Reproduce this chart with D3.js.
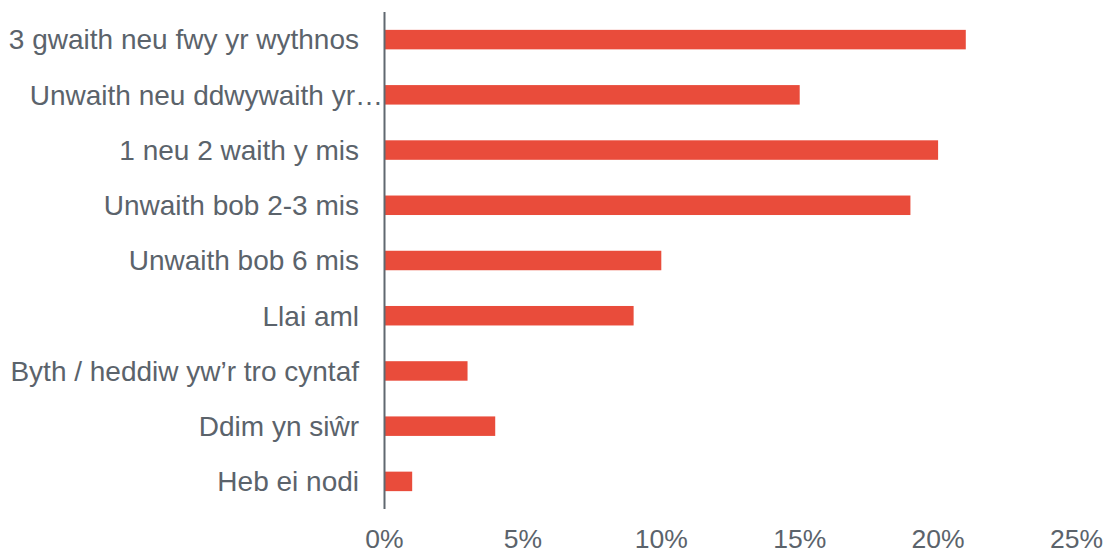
<!DOCTYPE html>
<html><head><meta charset="utf-8">
<script src="https://cdn.jsdelivr.net/npm/d3@7"></script>
<style>body{margin:0;background:#fff}svg{display:block}</style>
</head><body>
<svg id="c" width="1113" height="555"></svg>
<script>
const categories = ["3 gwaith neu fwy yr wythnos","Unwaith neu ddwywaith yr…","1 neu 2 waith y mis","Unwaith bob 2-3 mis","Unwaith bob 6 mis","Llai aml","Byth / heddiw yw’r tro cyntaf","Ddim yn siŵr","Heb ei nodi"];
const values = [21,15,20,19,10,9,3,4,1];
const ticks = [0,5,10,15,20,25];

const svg = d3.select("#c");
const x = d3.scaleLinear().domain([0,25]).range([384.5,1076.5]);
const y = d3.scaleBand().domain(categories).range([12,509]).paddingInner(0.647).paddingOuter(0.3235);
const txt = "#5b636b", font = "Liberation Sans, Arial, sans-serif";

svg.selectAll("rect.bar").data(values).join("rect")
  .attr("x", x(0)).attr("y",(d,i)=>y(categories[i]))
  .attr("width", d=>x(d)-x(0)).attr("height", y.bandwidth())
  .attr("fill","#e94c3b");

svg.append("line").attr("x1",x(0)).attr("x2",x(0)).attr("y1",12).attr("y2",509)
  .attr("stroke","#606870").attr("stroke-width",2);

svg.selectAll("text.cat").data(categories).join("text")
  .attr("x", d=> d.endsWith("…") ? 383 : 359)
  .attr("y", d=>y(d)+y.bandwidth()/2).attr("dy","0.35em")
  .attr("text-anchor","end").attr("font-family",font).attr("font-size",28)
  .attr("fill",txt).text(d=>d);

svg.selectAll("text.tick").data(ticks).join("text")
  .attr("x", d=>x(d)).attr("y",539).attr("dy","0.35em")
  .attr("text-anchor","middle").attr("font-family",font).attr("font-size",26.5)
  .attr("fill",txt).text(d=>d+"%");
</script>
</body></html>
